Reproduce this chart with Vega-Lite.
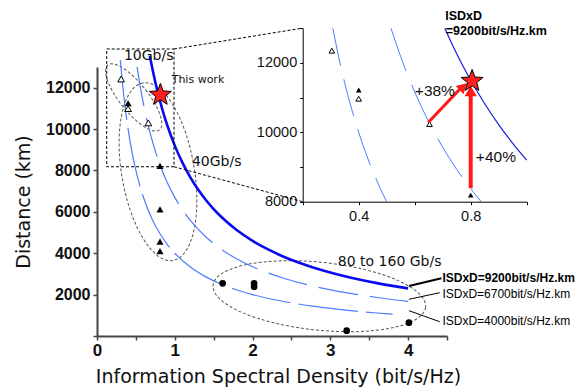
{
  "$schema": "https://vega.github.io/schema/vega-lite/v6.json",
  "width": 350,
  "height": 269,
  "autosize": {"type": "none"},
  "padding": {"left": 97, "top": 67, "right": 137, "bottom": 51},
  "background": "white",
  "config": {"view": {"stroke": null}, "axis": {"grid": false}, "font": "DejaVu Sans"},
  "resolve": {"scale": {"x": "independent", "y": "independent"}, "axis": {"x": "independent", "y": "independent"}},
  "layer": [
    {
      "encoding": {
        "x": {"field": "x", "type": "quantitative", "scale": {"domain": [0, 4.5], "nice": false, "zero": false},
          "axis": {"orient": "bottom", "title": "Information Spectral Density (bit/s/Hz)", "values": [0, 0.5, 1, 1.5, 2, 2.5, 3, 3.5, 4, 4.5],
            "labelExpr": "datum.value % 1 === 0 && datum.value < 4.5 ? format(datum.value, 'd') : ''",
            "labelFont": "Liberation Sans", "labelFontWeight": "bold", "labelFontSize": 17, "labelColor": "#111",
            "labelPadding": 2, "labelFlush": false, "labelOverlap": false, "tickSize": 4, "tickColor": "#444", "tickWidth": 1.5,
            "domainColor": "#444", "domainWidth": 2, "titleFont": "DejaVu Sans", "titleFontSize": 19, "titleFontWeight": "normal",
            "titleColor": "#111", "titleX": 181, "titleY": 46, "titleAlign": "center", "titleBaseline": "alphabetic"}},
        "y": {"field": "y", "type": "quantitative", "scale": {"domain": [0, 13000], "nice": false, "zero": false},
          "axis": {"orient": "left", "title": "Distance (km)", "values": [0, 2000, 4000, 6000, 8000, 10000, 12000],
            "labelExpr": "datum.value === 0 ? '' : format(datum.value, 'd')",
            "labelFont": "Liberation Sans", "labelFontWeight": "bold", "labelFontSize": 16, "labelColor": "#111",
            "labelPadding": 3, "labelFlush": false, "labelOverlap": false, "tickSize": 4, "tickColor": "#444", "tickWidth": 1.5,
            "domainColor": "#444", "domainWidth": 2, "titleFont": "DejaVu Sans", "titleFontSize": 19, "titleFontWeight": "normal",
            "titleColor": "#111", "titleX": -74, "titleY": 134.5, "titleAngle": -90, "titleAlign": "center", "titleBaseline": "middle"}}
      },
      "layer": [
        {"data": {"values": [{"x": 0.472, "y": 11527}]},
         "mark": {"type": "point", "shape": "M 1 0 C 1 0.1878 0.5523 0.34 0 0.34 C -0.5523 0.34 -1 0.1878 -1 0 C -1 -0.1878 -0.5523 -0.34 0 -0.34 C 0.5523 -0.34 1 -0.1878 1 0 Z",
           "size": 6889, "angle": 51.5, "filled": false, "stroke": "#555", "strokeWidth": 1, "strokeDash": [3, 2], "opacity": 1}},
        {"data": {"values": [{"x": 0.784, "y": 7941}]},
         "mark": {"type": "point", "shape": "M 1 0 C 1 0.2231 0.5523 0.404 0 0.404 C -0.5523 0.404 -1 0.2231 -1 0 C -1 -0.2231 -0.5523 -0.404 0 -0.404 C 0.5523 -0.404 1 -0.2231 1 0 Z",
           "size": 32400, "angle": 80.4, "filled": false, "stroke": "#555", "strokeWidth": 1, "strokeDash": [3, 2], "opacity": 1}},
        {"data": {"values": [{"x": 2.859, "y": 1924}]},
         "mark": {"type": "point", "shape": "M 1 0 C 1 0.1756 0.5523 0.318 0 0.318 C -0.5523 0.318 -1 0.1756 -1 0 C -1 -0.1756 -0.5523 -0.318 0 -0.318 C 0.5523 -0.318 1 -0.1756 1 0 Z",
           "size": 45627, "angle": 5.9, "filled": false, "stroke": "#555", "strokeWidth": 1, "strokeDash": [3, 2], "opacity": 1}},
        {"data": {"values": [
          {"x": 0.3, "y": 13333}, {"x": 0.325, "y": 12308}, {"x": 0.35, "y": 11429}, {"x": 0.4, "y": 10000}, {"x": 0.45, "y": 8889},
          {"x": 0.5, "y": 8000}, {"x": 0.6, "y": 6667}, {"x": 0.7, "y": 5714}, {"x": 0.8, "y": 5000}, {"x": 0.9, "y": 4444},
          {"x": 1.0, "y": 4000}, {"x": 1.2, "y": 3333}, {"x": 1.4, "y": 2857}, {"x": 1.6, "y": 2500}, {"x": 1.8, "y": 2222},
          {"x": 2.0, "y": 2000}, {"x": 2.4, "y": 1667}, {"x": 2.8, "y": 1429}, {"x": 3.2, "y": 1250}, {"x": 3.6, "y": 1111}, {"x": 3.8, "y": 1053}]},
         "mark": {"type": "line", "interpolate": "monotone", "color": "#4a7dff", "strokeWidth": 1.2, "strokeDash": [60, 8]},
         "encoding": {}},
        {"data": {"values": [
          {"x": 0.515, "y": 13010}, {"x": 0.55, "y": 12182}, {"x": 0.6, "y": 11167}, {"x": 0.65, "y": 10308}, {"x": 0.7, "y": 9571},
          {"x": 0.8, "y": 8375}, {"x": 0.9, "y": 7444}, {"x": 1.0, "y": 6700}, {"x": 1.1, "y": 6091}, {"x": 1.2, "y": 5583},
          {"x": 1.4, "y": 4786}, {"x": 1.6, "y": 4188}, {"x": 1.8, "y": 3722}, {"x": 2.0, "y": 3350}, {"x": 2.2, "y": 3045},
          {"x": 2.4, "y": 2792}, {"x": 2.8, "y": 2393}, {"x": 3.2, "y": 2094}, {"x": 3.6, "y": 1861}, {"x": 4.0, "y": 1675}]},
         "mark": {"type": "line", "interpolate": "monotone", "color": "#4a7dff", "strokeWidth": 1.2, "strokeDash": [40, 12]},
         "encoding": {}},
        {"data": {"values": [
          {"x": 0.68, "y": 13529}, {"x": 0.7, "y": 13143}, {"x": 0.75, "y": 12267}, {"x": 0.8, "y": 11500}, {"x": 0.85, "y": 10824},
          {"x": 0.9, "y": 10222}, {"x": 1.0, "y": 9200}, {"x": 1.1, "y": 8364}, {"x": 1.2, "y": 7667}, {"x": 1.3, "y": 7077},
          {"x": 1.4, "y": 6571}, {"x": 1.5, "y": 6133}, {"x": 1.6, "y": 5750}, {"x": 1.8, "y": 5111}, {"x": 2.0, "y": 4600},
          {"x": 2.2, "y": 4182}, {"x": 2.4, "y": 3833}, {"x": 2.6, "y": 3538}, {"x": 2.8, "y": 3286}, {"x": 3.0, "y": 3067},
          {"x": 3.2, "y": 2875}, {"x": 3.4, "y": 2706}, {"x": 3.6, "y": 2556}, {"x": 3.8, "y": 2421}, {"x": 4.0, "y": 2300}]},
         "mark": {"type": "line", "interpolate": "monotone", "color": "#0a0af0", "strokeWidth": 2.6},
         "encoding": {}},
        {"data": {"values": [{"x": 0.125, "y": 8180, "x2": 0.99, "y2": 13870}]},
         "mark": {"type": "rect", "filled": false, "stroke": "#000", "strokeWidth": 1, "strokeDash": [3, 2]},
         "encoding": {"x2": {"field": "x2"}, "y2": {"field": "y2"}}},
        {"data": {"values": [{"x": 0.99, "y": 13870, "x2": 2.632, "y2": 14872}, {"x": 0.99, "y": 8180, "x2": 2.645, "y2": 6491}]},
         "mark": {"type": "rule", "color": "#000", "strokeWidth": 1, "strokeDash": [3, 2]},
         "encoding": {"x2": {"field": "x2"}, "y2": {"field": "y2"}}},
        {"data": {"values": [{"x": 4.011, "y": 2417, "x2": 4.428, "y2": 2789}]},
         "mark": {"type": "rule", "color": "#000", "strokeWidth": 2},
         "encoding": {"x2": {"field": "x2"}, "y2": {"field": "y2"}}},
        {"data": {"values": [{"x": 4.011, "y": 1774, "x2": 4.406, "y2": 2093}, {"x": 4.011, "y": 1223, "x2": 4.406, "y2": 691}]},
         "mark": {"type": "rule", "color": "#000", "strokeWidth": 1},
         "encoding": {"x2": {"field": "x2"}, "y2": {"field": "y2"}}},
        {"data": {"values": [{"x": 0.31, "y": 12420}, {"x": 0.4, "y": 10990}, {"x": 0.66, "y": 10300}]},
         "mark": {"type": "point", "shape": "triangle-up", "size": 45, "filled": true, "fill": "white", "stroke": "#000", "strokeWidth": 1, "opacity": 1}},
        {"data": {"values": [{"x": 0.4, "y": 11250}, {"x": 0.81, "y": 8220}, {"x": 0.81, "y": 6120}, {"x": 0.81, "y": 4560}, {"x": 0.81, "y": 4100}]},
         "mark": {"type": "point", "shape": "triangle-up", "size": 50, "filled": true, "color": "#000", "opacity": 1}},
        {"data": {"values": [{"x": 1.615, "y": 2545}, {"x": 2.02, "y": 2545}, {"x": 2.02, "y": 2380}, {"x": 3.21, "y": 256}, {"x": 4.01, "y": 643}]},
         "mark": {"type": "point", "shape": "circle", "size": 45, "filled": true, "color": "#000", "opacity": 1}},
        {"data": {"values": [{"x": 0.815, "y": 11650}]},
         "mark": {"type": "point", "shape": "M 0 -1 L 0.2469 -0.3399 L 0.9511 -0.309 L 0.3995 0.1298 L 0.5878 0.809 L 0 0.42 L -0.5878 0.809 L -0.3995 0.1298 L -0.9511 -0.309 L -0.2469 -0.3399 Z",
           "size": 535, "filled": true, "fill": "#ff2020", "stroke": "#000", "strokeWidth": 1, "opacity": 1}},
        {"data": {"values": [{"x": 0.665, "y": 13533, "t": "10Gb/s"}, {"x": 1.539, "y": 8386, "t": "40Gb/s"}, {"x": 3.763, "y": 3577, "t": "80 to 160 Gb/s"}]},
         "mark": {"type": "text", "font": "DejaVu Sans", "fontSize": 14, "align": "center", "baseline": "middle", "color": "#111"},
         "encoding": {"text": {"field": "t"}}},
        {"data": {"values": [{"x": 0.96, "y": 12373, "t": "This work"}]},
         "mark": {"type": "text", "font": "DejaVu Sans", "fontSize": 11, "align": "left", "baseline": "middle", "color": "#111"},
         "encoding": {"text": {"field": "t"}}},
        {"data": {"values": [{"x": 4.441, "y": 2803, "t": "ISDxD=9200bit/s/Hz.km"}]},
         "mark": {"type": "text", "font": "Liberation Sans", "fontWeight": "bold", "fontSize": 12, "align": "left", "baseline": "middle", "color": "#000"},
         "encoding": {"text": {"field": "t"}}},
        {"data": {"values": [{"x": 4.441, "y": 2030, "t": "ISDxD=6700bit/s/Hz.km"}, {"x": 4.441, "y": 725, "t": "ISDxD=4000bit/s/Hz.km"}]},
         "mark": {"type": "text", "font": "Liberation Sans", "fontSize": 12, "align": "left", "baseline": "middle", "color": "#000"},
         "encoding": {"text": {"field": "t"}}}
      ]
    },
    {
      "encoding": {
        "x": {"field": "x", "type": "quantitative", "scale": {"domain": [0.2, 1.0], "range": [205.7, 429.7], "nice": false, "zero": false},
          "axis": {"orient": "bottom", "offset": -134.3, "title": null, "values": [0.2, 0.4, 0.6, 0.8, 1.0],
            "labelExpr": "(abs(datum.value - 0.4) < 0.01 || abs(datum.value - 0.8) < 0.01) ? format(datum.value, '.1f') : ''",
            "labelFont": "Liberation Sans", "labelFontSize": 14.5, "labelColor": "#111", "labelPadding": 5, "labelFlush": false, "labelOverlap": false,
            "tickSize": 3, "tickColor": "#000", "domainColor": "#000", "domainWidth": 1}},
        "y": {"field": "y", "type": "quantitative", "scale": {"domain": [8000, 13000], "range": [134.7, -38.7], "nice": false, "zero": false},
          "axis": {"orient": "left", "offset": -205.7, "title": null, "values": [8000, 9000, 10000, 11000, 12000, 13000],
            "labelExpr": "datum.value % 2000 === 0 && datum.value < 13000 ? format(datum.value, 'd') : ''",
            "labelFont": "Liberation Sans", "labelFontSize": 14.5, "labelColor": "#111", "labelPadding": 3, "labelFlush": false, "labelOverlap": false,
            "tickSize": 3, "tickColor": "#000", "domainColor": "#000", "domainWidth": 1}}
      },
      "layer": [
        {"data": {"values": [
          {"x": 0.3077, "y": 13000}, {"x": 0.325, "y": 12308}, {"x": 0.35, "y": 11429}, {"x": 0.375, "y": 10667}, {"x": 0.4, "y": 10000},
          {"x": 0.425, "y": 9412}, {"x": 0.45, "y": 8889}, {"x": 0.475, "y": 8421}, {"x": 0.5, "y": 8000}]},
         "mark": {"type": "line", "interpolate": "monotone", "color": "#4a7dff", "strokeWidth": 1, "strokeDash": [38, 14]},
         "encoding": {}},
        {"data": {"values": [
          {"x": 0.5154, "y": 13000}, {"x": 0.55, "y": 12182}, {"x": 0.6, "y": 11167}, {"x": 0.65, "y": 10308}, {"x": 0.7, "y": 9571},
          {"x": 0.75, "y": 8933}, {"x": 0.8, "y": 8375}, {"x": 0.8375, "y": 8000}]},
         "mark": {"type": "line", "interpolate": "monotone", "color": "#4a7dff", "strokeWidth": 1, "strokeDash": [45, 15]},
         "encoding": {}},
        {"data": {"values": [
          {"x": 0.7077, "y": 13000}, {"x": 0.72, "y": 12778}, {"x": 0.75, "y": 12267}, {"x": 0.78, "y": 11795}, {"x": 0.8, "y": 11500},
          {"x": 0.85, "y": 10824}, {"x": 0.9, "y": 10222}, {"x": 0.95, "y": 9684}, {"x": 1.0, "y": 9200}]},
         "mark": {"type": "line", "interpolate": "monotone", "color": "#1a1ae0", "strokeWidth": 1.2},
         "encoding": {}},
        {"data": {"values": [{"x": 0.4, "y": 11220}, {"x": 0.8, "y": 8190}]},
         "mark": {"type": "point", "shape": "triangle-up", "size": 32, "filled": true, "color": "#000", "opacity": 1}},
        {"data": {"values": [{"x": 0.304, "y": 12355}, {"x": 0.4, "y": 10970}, {"x": 0.653, "y": 10240}]},
         "mark": {"type": "point", "shape": "triangle-up", "size": 32, "filled": true, "fill": "white", "stroke": "#000", "strokeWidth": 1, "opacity": 1}},
        {"data": {"values": [{"x": 0.649, "y": 10290, "x2": 0.762, "y2": 11253}]},
         "mark": {"type": "rule", "color": "#ff1a1a", "strokeWidth": 3},
         "encoding": {"x2": {"field": "x2"}, "y2": {"field": "y2"}}},
        {"data": {"values": [{"x": 0.8, "y": 8390, "x2": 0.8, "y2": 11150}]},
         "mark": {"type": "rule", "color": "#ff1a1a", "strokeWidth": 4},
         "encoding": {"x2": {"field": "x2"}, "y2": {"field": "y2"}}},
        {"data": {"values": [{"x": 0.773, "y": 11316}]},
         "mark": {"type": "point", "shape": "triangle-up", "size": 130, "angle": 46, "filled": true, "color": "#ff1a1a", "opacity": 1}},
        {"data": {"values": [{"x": 0.8, "y": 11190}]},
         "mark": {"type": "point", "shape": "triangle-up", "size": 150, "filled": true, "color": "#ff1a1a", "opacity": 1}},
        {"data": {"values": [{"x": 0.805, "y": 11480}]},
         "mark": {"type": "point", "shape": "M 0 -1 L 0.2469 -0.3399 L 0.9511 -0.309 L 0.3995 0.1298 L 0.5878 0.809 L 0 0.42 L -0.5878 0.809 L -0.3995 0.1298 L -0.9511 -0.309 L -0.2469 -0.3399 Z",
           "size": 535, "filled": true, "fill": "#ff2020", "stroke": "#000", "strokeWidth": 1, "opacity": 1}},
        {"data": {"values": [{"x": 0.709, "y": 13359, "t": "ISDxD"}, {"x": 0.711, "y": 12926, "t": "=9200bit/s/Hz.km"}]},
         "mark": {"type": "text", "font": "Liberation Sans", "fontWeight": "bold", "fontSize": 12.5, "align": "left", "baseline": "middle", "color": "#000"},
         "encoding": {"text": {"field": "t"}}},
        {"data": {"values": [{"x": 0.672, "y": 11195, "t": "+38%"}, {"x": 0.89, "y": 9290, "t": "+40%"}]},
         "mark": {"type": "text", "font": "Liberation Sans", "fontSize": 15.5, "align": "center", "baseline": "middle", "color": "#111"},
         "encoding": {"text": {"field": "t"}}}
      ]
    }
  ]
}
